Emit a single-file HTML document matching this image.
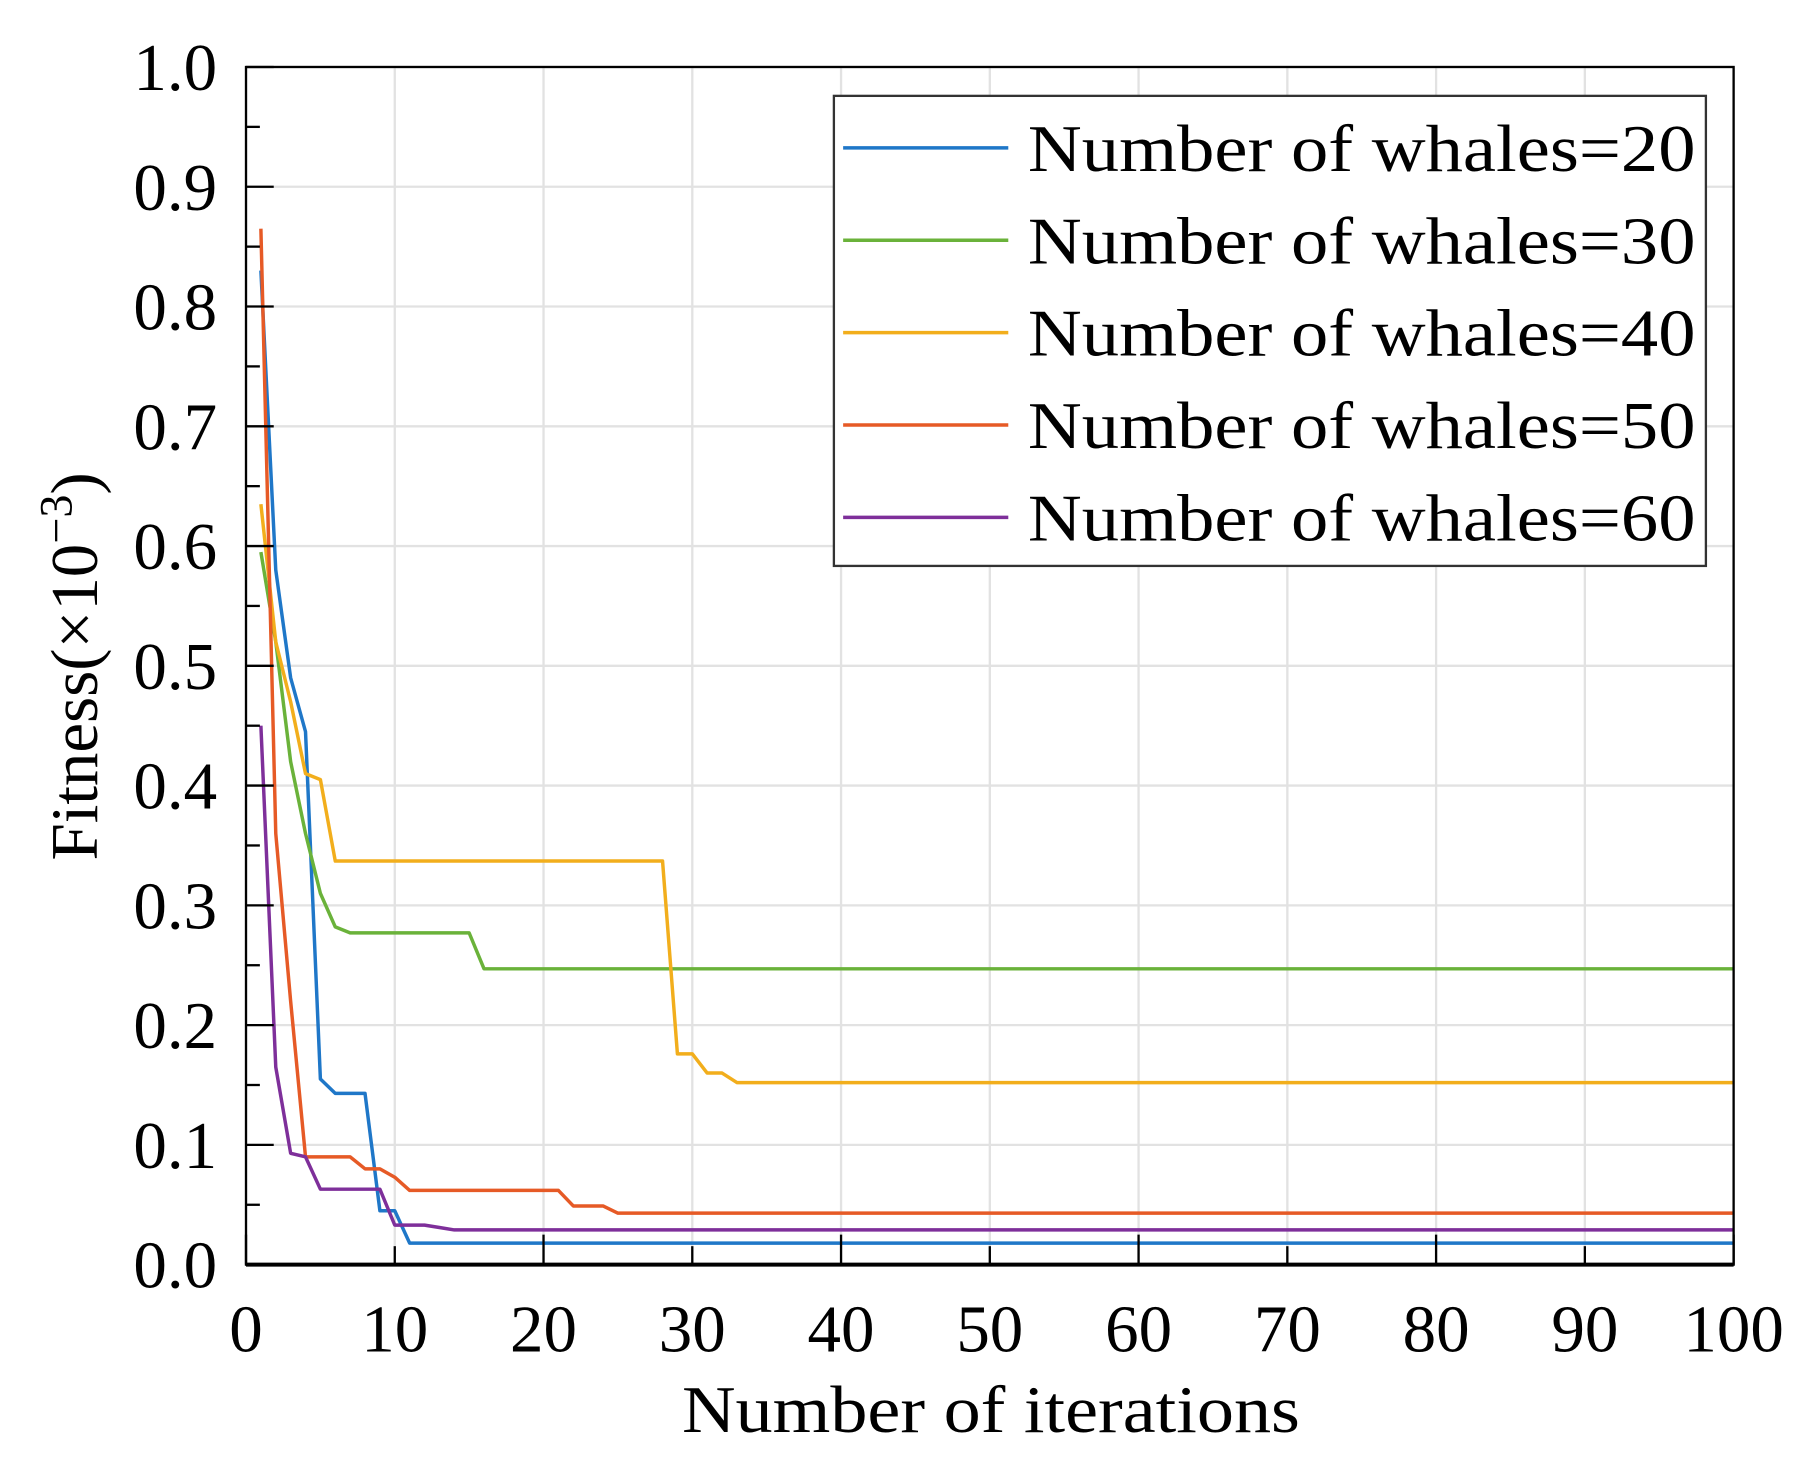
<!DOCTYPE html>
<html><head><meta charset="utf-8"><style>
html,body{margin:0;padding:0;background:#fff;}
svg{display:block;font-family:"Liberation Serif",serif;}
</style></head><body>
<svg id="chart" width="1811" height="1473" viewBox="0 0 1568 1275.4" preserveAspectRatio="none" xmlns="http://www.w3.org/2000/svg">
<g id="grid"></g>
<g id="series"></g>
<g id="axes"></g>
<text x="858" y="1240" font-size="58" text-anchor="middle" textLength="535" lengthAdjust="spacingAndGlyphs">Number of iterations</text>
<text transform="translate(84,577) rotate(-90)" font-size="58" text-anchor="middle">Fitness(×10<tspan dy="-22" font-size="40">−3</tspan><tspan dy="22">)</tspan></text>
<g id="legend"></g>
</svg>
<script>
const seriesNames=["Number of whales=20","Number of whales=30","Number of whales=40","Number of whales=50","Number of whales=60"];
const seriesColors=["#1f77c8","#6ab23a","#f2ae1c","#e65a26","#7e2f9a"];
const s20=[0.83,0.58,0.49,0.445,0.155,0.143,0.143,0.143,0.045,0.045,0.018];
const s30=[0.595,0.52,0.42,0.36,0.31,0.282,0.277,0.277,0.277,0.277,0.277,0.277,0.277,0.277,0.277,0.247];
const s40=[0.635,0.52,0.47,0.41,0.405,0.337,0.337,0.337,0.337,0.337,0.337,0.337,0.337,0.337,0.337,0.337,0.337,0.337,0.337,0.337,0.337,0.337,0.337,0.337,0.337,0.337,0.337,0.337,0.176,0.176,0.16,0.16,0.152];
const s50=[0.865,0.36,0.22,0.09,0.09,0.09,0.09,0.08,0.08,0.073,0.062,0.062,0.062,0.062,0.062,0.062,0.062,0.062,0.062,0.062,0.062,0.049,0.049,0.049,0.043];
const s60=[0.45,0.165,0.093,0.09,0.063,0.063,0.063,0.063,0.063,0.033,0.033,0.033,0.031,0.029];
const xTicks=[0,10,20,30,40,50,60,70,80,90,100];
const yTicks=[0,0.1,0.2,0.3,0.4,0.5,0.6,0.7,0.8,0.9,1.0];
const nIter=100;
const L=213,R=1501,T=58,B=1095;
const X=v=>L+(R-L)*v/100, Y=v=>B-(B-T)*v;
const NS="http://www.w3.org/2000/svg";
function mk(tag,attrs,parent){const e=document.createElementNS(NS,tag);for(const k in attrs)e.setAttribute(k,attrs[k]);parent.appendChild(e);return e;}
const grid=document.getElementById('grid'),axes=document.getElementById('axes'),sg=document.getElementById('series'),lg=document.getElementById('legend');
xTicks.forEach(t=>{const g=mk('line',{x1:X(t),x2:X(t),y1:T,y2:B,stroke:'#e2e2e2','stroke-width':2},grid);

const tk=mk('line',{x1:X(t),x2:X(t),y1:B,y2:B-(t%20===0?26:16),stroke:'#000','stroke-width':2},axes);

const lb=mk('text',{x:X(t),y:1170,'font-size':58,'text-anchor':'middle'},axes);lb.textContent=t;
});
yTicks.forEach(t=>{const g=mk('line',{x1:L,x2:R,y1:Y(t),y2:Y(t),stroke:'#e2e2e2','stroke-width':2},grid);

const tk=mk('line',{x1:L,x2:L+24,y1:Y(t),y2:Y(t),stroke:'#000','stroke-width':2},axes);

if(t<1){const m=mk('line',{x1:L,x2:L+12,y1:Y(t+0.05),y2:Y(t+0.05),stroke:'#000','stroke-width':2},axes);
}
const lb=mk('text',{x:188,y:Y(t)+20,'font-size':58,'text-anchor':'end'},axes);lb.textContent=t.toFixed(1);
});
const frame=mk('rect',{x:L,y:T,width:R-L,height:B-T,fill:'none',stroke:'#000','stroke-width':2},axes);

const fb=mk('line',{x1:L,x2:R,y1:B,y2:B,stroke:'#000','stroke-width':3.5},axes);

[s20,s30,s40,s50,s60].forEach((s,i)=>{const pts=[];for(let k=1;k<=nIter;k++){const v=k-1<s.length?s[k-1]:s[s.length-1];pts.push(X(k)+','+Y(v));}
const p=mk('polyline',{points:pts.join(' '),fill:'none',stroke:seriesColors[i],'stroke-width':3,'stroke-linejoin':'round'},sg);
});
const box=mk('rect',{x:722,y:83,width:755,height:407,fill:'#fff',stroke:'#333','stroke-width':2},lg);

seriesNames.forEach((n,i)=>{const y=128+i*80;
const ln=mk('line',{x1:730,x2:873,y1:y,y2:y,stroke:seriesColors[i],'stroke-width':3},lg);

const tx=mk('text',{x:890,y:y+20,'font-size':58,textLength:578,lengthAdjust:'spacingAndGlyphs'},lg);tx.textContent=n;
});
</script>
</body></html>
